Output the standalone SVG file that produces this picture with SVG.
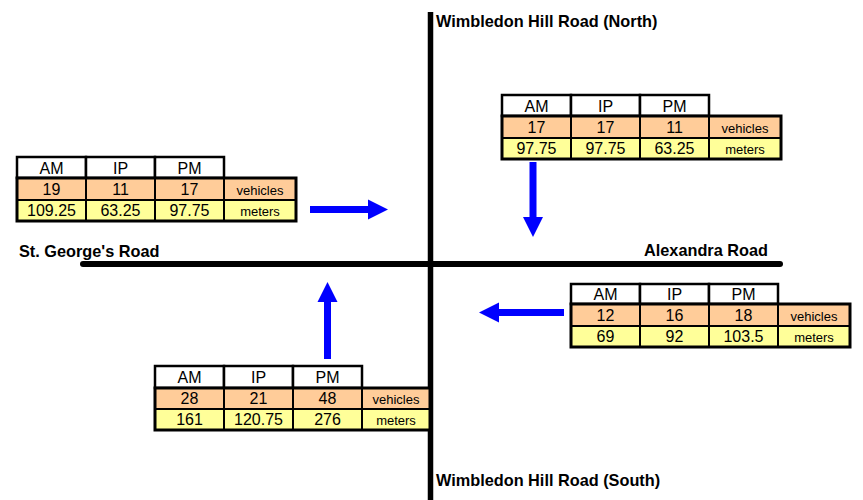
<svg xmlns="http://www.w3.org/2000/svg" width="863" height="500" viewBox="0 0 863 500">
<style>
text{font-family:"Liberation Sans",Arial,Helvetica,sans-serif;fill:#000}
.lbl{font-size:16.3px;font-weight:bold}
.t{font-size:16px;text-anchor:middle}
.u{font-size:13px;text-anchor:middle}
.hd{fill:#fff;stroke:#000;stroke-width:2.5}
.veh{fill:#FFCC99;stroke:#000;stroke-width:2}
.met{fill:#FFFF99;stroke:#000;stroke-width:2}
.box{fill:none;stroke:#000;stroke-width:3}
.road{stroke:#000;fill:none}
.arr{stroke:#0000FF;stroke-width:7;fill:none;marker-end:url(#head)}
</style>
<defs>
<marker id="head" markerUnits="userSpaceOnUse" markerWidth="20" markerHeight="20" refX="0" refY="10" orient="auto" overflow="visible">
<path d="M0,0 L20,10 L0,20 z" fill="#0000FF"/>
</marker>
</defs>
<rect width="863" height="500" fill="#fff"/>
<g id="roads">
<line class="road" x1="430.5" y1="12" x2="430.5" y2="500" stroke-width="5.5"/>
<line class="road" x1="83" y1="264" x2="780" y2="264" stroke-width="6" stroke-linecap="round"/>
</g>
<g id="road-labels">
<text class="lbl" x="436" y="27">Wimbledon Hill Road (North)</text>
<text class="lbl" x="19" y="257">St. George's Road</text>
<text class="lbl" x="768" y="256" text-anchor="end">Alexandra Road</text>
<text class="lbl" x="436" y="486">Wimbledon Hill Road (South)</text>
</g>
<g id="table-west" transform="translate(17,157)">
<rect class="hd" x="0" y="0" width="69" height="21"/><rect class="hd" x="69" y="0" width="69" height="21"/><rect class="hd" x="138" y="0" width="69" height="21"/>
<rect class="veh" x="0" y="21" width="69" height="22"/><rect class="veh" x="69" y="21" width="69" height="22"/><rect class="veh" x="138" y="21" width="69" height="22"/><rect class="veh" x="207" y="21" width="72" height="22"/>
<rect class="met" x="0" y="43" width="69" height="21"/><rect class="met" x="69" y="43" width="69" height="21"/><rect class="met" x="138" y="43" width="69" height="21"/><rect class="met" x="207" y="43" width="72" height="21"/>
<rect class="box" x="0" y="21" width="279" height="43"/>
<text class="t" x="34.5" y="17">AM</text><text class="t" x="103.5" y="17">IP</text><text class="t" x="172.5" y="17">PM</text>
<text class="t" x="34.5" y="38">19</text><text class="t" x="103.5" y="38">11</text><text class="t" x="172.5" y="38">17</text><text class="u" x="243" y="38">vehicles</text>
<text class="t" x="34.5" y="59">109.25</text><text class="t" x="103.5" y="59">63.25</text><text class="t" x="172.5" y="59">97.75</text><text class="u" x="243" y="59">meters</text>
</g>
<g id="table-north" transform="translate(502,95)">
<rect class="hd" x="0" y="0" width="69" height="21"/><rect class="hd" x="69" y="0" width="69" height="21"/><rect class="hd" x="138" y="0" width="69" height="21"/>
<rect class="veh" x="0" y="21" width="69" height="22"/><rect class="veh" x="69" y="21" width="69" height="22"/><rect class="veh" x="138" y="21" width="69" height="22"/><rect class="veh" x="207" y="21" width="72" height="22"/>
<rect class="met" x="0" y="43" width="69" height="21"/><rect class="met" x="69" y="43" width="69" height="21"/><rect class="met" x="138" y="43" width="69" height="21"/><rect class="met" x="207" y="43" width="72" height="21"/>
<rect class="box" x="0" y="21" width="279" height="43"/>
<text class="t" x="34.5" y="17">AM</text><text class="t" x="103.5" y="17">IP</text><text class="t" x="172.5" y="17">PM</text>
<text class="t" x="34.5" y="38">17</text><text class="t" x="103.5" y="38">17</text><text class="t" x="172.5" y="38">11</text><text class="u" x="243" y="38">vehicles</text>
<text class="t" x="34.5" y="59">97.75</text><text class="t" x="103.5" y="59">97.75</text><text class="t" x="172.5" y="59">63.25</text><text class="u" x="243" y="59">meters</text>
</g>
<g id="table-east" transform="translate(571,284)">
<rect class="hd" x="0" y="0" width="69" height="20"/><rect class="hd" x="69" y="0" width="69" height="20"/><rect class="hd" x="138" y="0" width="69" height="20"/>
<rect class="veh" x="0" y="20" width="69" height="22"/><rect class="veh" x="69" y="20" width="69" height="22"/><rect class="veh" x="138" y="20" width="69" height="22"/><rect class="veh" x="207" y="20" width="72" height="22"/>
<rect class="met" x="0" y="42" width="69" height="21"/><rect class="met" x="69" y="42" width="69" height="21"/><rect class="met" x="138" y="42" width="69" height="21"/><rect class="met" x="207" y="42" width="72" height="21"/>
<rect class="box" x="0" y="20" width="279" height="43"/>
<text class="t" x="34.5" y="16">AM</text><text class="t" x="103.5" y="16">IP</text><text class="t" x="172.5" y="16">PM</text>
<text class="t" x="34.5" y="37">12</text><text class="t" x="103.5" y="37">16</text><text class="t" x="172.5" y="37">18</text><text class="u" x="243" y="37">vehicles</text>
<text class="t" x="34.5" y="58">69</text><text class="t" x="103.5" y="58">92</text><text class="t" x="172.5" y="58">103.5</text><text class="u" x="243" y="58">meters</text>
</g>
<g id="table-south" transform="translate(155,366)">
<rect class="hd" x="0" y="0" width="69" height="22"/><rect class="hd" x="69" y="0" width="69" height="22"/><rect class="hd" x="138" y="0" width="69" height="22"/>
<rect class="veh" x="0" y="22" width="69" height="21"/><rect class="veh" x="69" y="22" width="69" height="21"/><rect class="veh" x="138" y="22" width="69" height="21"/><rect class="veh" x="207" y="22" width="68" height="21"/>
<rect class="met" x="0" y="43" width="69" height="21"/><rect class="met" x="69" y="43" width="69" height="21"/><rect class="met" x="138" y="43" width="69" height="21"/><rect class="met" x="207" y="43" width="68" height="21"/>
<rect class="box" x="0" y="22" width="275" height="42"/>
<text class="t" x="34.5" y="17">AM</text><text class="t" x="103.5" y="17">IP</text><text class="t" x="172.5" y="17">PM</text>
<text class="t" x="34.5" y="38">28</text><text class="t" x="103.5" y="38">21</text><text class="t" x="172.5" y="38">48</text><text class="u" x="241" y="38">vehicles</text>
<text class="t" x="34.5" y="59">161</text><text class="t" x="103.5" y="59">120.75</text><text class="t" x="172.5" y="59">276</text><text class="u" x="241" y="59">meters</text>
</g>
<g id="connectors">
<line class="arr" x1="310" y1="209.5" x2="368" y2="209.5"/>
<line class="arr" x1="533" y1="162" x2="533" y2="217"/>
<line class="arr" x1="564" y1="312.5" x2="499" y2="312.5"/>
<line class="arr" x1="327.5" y1="359" x2="327.5" y2="302"/>
</g>
</svg>
